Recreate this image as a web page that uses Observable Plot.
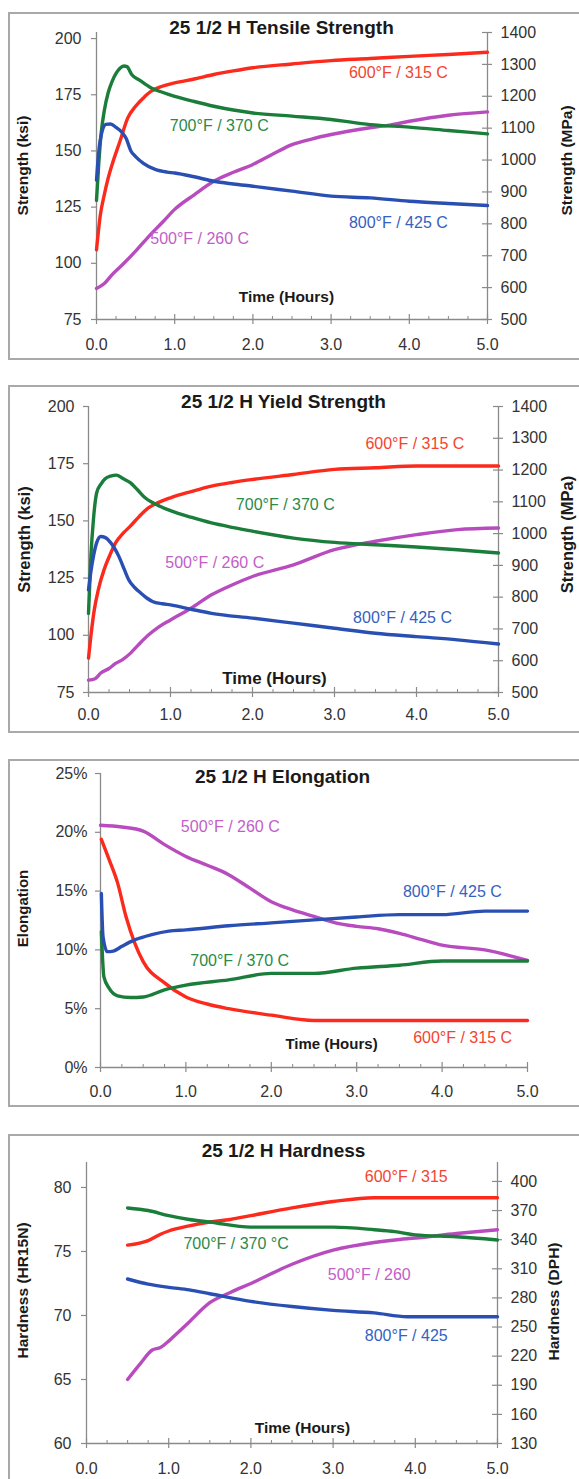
<!DOCTYPE html>
<html><head><meta charset="utf-8">
<script src="https://cdn.jsdelivr.net/npm/d3@7"></script>
<script src="https://cdn.jsdelivr.net/npm/@observablehq/plot@0.6"></script>
<style>
body{margin:0;background:#fff;font-family:"Liberation Sans",Arial,sans-serif;}
#wrap{position:relative;width:579px;height:1479px;overflow:hidden;}
.box{position:absolute;left:8px;width:640px;border:2px solid #a9a9a9;box-sizing:border-box;}
.panel{position:absolute;left:0;}
</style></head><body><div id="wrap"></div><script>
// ---------- data ----------
const seriesNames = ["500°F / 260 C", "600°F / 315 C", "700°F / 370 C", "800°F / 425 C"];
const hardnessNames = ["500°F / 260", "600°F / 315", "700°F / 370 °C", "800°F / 425"];
const xTicks = [0, 1, 2, 3, 4, 5];
const xMinorTicks = [0.25,0.5,0.75,1.25,1.5,1.75,2.25,2.5,2.75,3.25,3.5,3.75,4.25,4.5,4.75];
const ksiTicks = [75, 100, 125, 150, 175, 200];
const mpaTicks = [500, 600, 700, 800, 900, 1000, 1100, 1200, 1300, 1400];
const pctTicks = [0, 5, 10, 15, 20, 25];
const hrTicks = [60, 65, 70, 75, 80];
const dphTicks = [130, 160, 190, 220, 250, 280, 310, 340, 370, 400];

// Tensile strength (hours, ksi)
const tensile500 = [[0,88.8],[0.1,91],[0.2,95],[0.35,100],[0.5,105.4],[0.69,112.8],[0.85,118.5],[1.0,124],[1.25,130.5],[1.5,136.5],[1.75,140.5],[2.0,144],[2.25,148.5],[2.5,152.8],[2.75,155.3],[3.0,157.3],[3.5,160.3],[3.75,161.5],[4.0,163.2],[4.5,165.9],[5.0,167.4]];
const tensile600 = [[0,106],[0.05,121.7],[0.1,130.6],[0.15,138],[0.2,144],[0.3,154.3],[0.4,164.7],[0.5,169.9],[0.6,173.6],[0.7,176.6],[0.8,178.3],[1.0,180.3],[1.25,182],[1.5,184],[1.75,185.6],[2.0,187],[2.5,188.7],[3.0,190.2],[3.5,191.1],[4.0,192.1],[4.5,192.9],[5.0,193.9]];
const tensile700 = [[0,128],[0.03,145],[0.06,158],[0.1,168],[0.15,176],[0.2,181],[0.25,184.5],[0.3,186.8],[0.35,187.8],[0.39,187.5],[0.45,184],[0.55,181.5],[0.7,178],[0.85,176],[1.0,174.3],[1.25,172],[1.5,169.9],[1.75,168.2],[2.0,166.9],[2.5,165.5],[3.0,164],[3.5,161.7],[4.0,160.6],[4.5,159.1],[5.0,157.6]];
const tensile800 = [[0,137],[0.03,150],[0.07,158.5],[0.12,161.8],[0.18,162],[0.25,160.5],[0.32,158.5],[0.38,155.5],[0.44,150],[0.5,147.5],[0.6,144.5],[0.75,141.8],[0.9,140.6],[1.0,140.2],[1.25,138.5],[1.5,136.5],[1.75,135.3],[2.0,134.3],[2.5,132.1],[3.0,129.9],[3.5,129.1],[4.0,127.6],[4.5,126.6],[5.0,125.7]];

// Yield strength (hours, ksi)
const yield500 = [[0,80.4],[0.08,81],[0.15,83.5],[0.25,85.5],[0.33,87.7],[0.42,89.5],[0.51,92.1],[0.6,95.5],[0.73,100.1],[0.85,103.5],[1.0,106.7],[1.25,111.8],[1.5,117.7],[1.75,122],[2.0,125.7],[2.5,130.8],[3.0,137.4],[3.5,141.1],[4.0,144],[4.5,146.2],[5.0,146.9]];
const yield600 = [[0,90],[0.03,100],[0.07,111],[0.12,120],[0.19,128.7],[0.26,135],[0.33,140.4],[0.42,144.5],[0.51,147.7],[0.62,152],[0.73,155.7],[0.85,158],[1.0,160.1],[1.25,162.8],[1.5,165.2],[1.75,166.8],[2.0,168.1],[2.5,170.3],[3.0,172.5],[3.5,173.2],[4.0,174],[4.5,174],[5.0,174]];
const yield700 = [[0,109.6],[0.03,135],[0.06,150.6],[0.1,162.3],[0.15,166],[0.2,168.3],[0.27,169.6],[0.34,170],[0.42,168.5],[0.51,166.7],[0.6,163.5],[0.69,160.1],[0.78,158],[0.87,156.4],[1.0,154.5],[1.25,151.6],[1.5,149.1],[1.75,147.2],[2.0,145.5],[2.5,142.5],[3.0,140.6],[3.5,139.6],[4.0,138.6],[4.5,137.4],[5.0,136]];
const yield800 = [[0,119.9],[0.03,128],[0.06,134.5],[0.1,140.5],[0.15,143.2],[0.2,142.8],[0.27,140.5],[0.37,134.5],[0.44,128.5],[0.49,124.3],[0.56,121],[0.64,118.4],[0.71,116.3],[0.78,114.8],[0.9,113.8],[1.0,113.3],[1.25,111.4],[1.5,109.6],[2.0,107.5],[2.5,105.3],[3.0,103.1],[3.5,100.9],[4.0,99.4],[4.5,98],[5.0,96.2]];

// Elongation (hours, %)
const elong500 = [[0,20.6],[0.25,20.45],[0.5,20.1],[0.75,18.95],[1.0,17.95],[1.25,17.2],[1.5,16.4],[1.75,15.25],[2.0,14.1],[2.25,13.4],[2.5,12.85],[2.75,12.3],[3.0,12],[3.25,11.8],[3.5,11.4],[3.75,10.9],[4.0,10.4],[4.5,10.0],[5.0,9.1]];
const elong600 = [[0.01,19.4],[0.1,17.7],[0.2,15.7],[0.3,12.8],[0.4,10.6],[0.5,9.0],[0.75,7.2],[1.0,6.0],[1.25,5.4],[1.5,5.0],[2.0,4.45],[2.5,4.0],[3.0,4.0],[4.0,4.0],[5.0,4.0]];
const elong700 = [[0.01,11.55],[0.04,7.7],[0.1,6.75],[0.2,6.1],[0.35,5.95],[0.5,6.0],[0.75,6.6],[1.0,7.0],[1.5,7.45],[2.0,8.0],[2.5,8.0],[3.0,8.45],[3.5,8.7],[4.0,9.05],[5.0,9.05]];
const elong800 = [[0.01,14.8],[0.03,11.1],[0.08,9.85],[0.15,9.9],[0.25,10.3],[0.4,10.85],[0.6,11.3],[0.8,11.6],[1.0,11.7],[1.5,12.05],[2.0,12.3],[2.5,12.55],[3.0,12.8],[3.5,13.0],[4.0,13.0],[4.5,13.3],[5.0,13.3]];

// Hardness (hours, HR15N)
const hard500 = [[0.5,65.0],[0.65,66.2],[0.8,67.3],[0.9,67.5],[1.0,68.0],[1.1,68.6],[1.25,69.5],[1.5,71.0],[1.75,71.8],[2.0,72.5],[2.5,74.0],[3.0,75.1],[3.5,75.7],[3.75,75.9],[4.0,76.05],[4.5,76.4],[5.0,76.7]];
const hard600 = [[0.5,75.5],[0.75,75.85],[0.9,76.35],[1.0,76.6],[1.25,77.0],[1.5,77.3],[1.75,77.5],[2.0,77.8],[2.5,78.4],[3.0,78.9],[3.5,79.2],[4.0,79.2],[5.0,79.2]];
const hard700 = [[0.5,78.4],[0.75,78.2],[1.0,77.8],[1.25,77.5],[1.5,77.3],[2.0,76.9],[2.5,76.9],[3.0,76.9],[3.5,76.7],[3.75,76.55],[4.0,76.3],[4.5,76.15],[5.0,75.9]];
const hard800 = [[0.5,72.85],[0.75,72.45],[1.0,72.2],[1.25,72.0],[1.5,71.7],[2.0,71.1],[2.5,70.7],[3.0,70.4],[3.5,70.2],[3.9,69.9],[5.0,69.9]];

// series label anchor points (hours, value) in order 500, 600, 700, 800
const tensileLabelPos = [[1.32,111],[3.86,184.9],[1.57,161.3],[3.86,118.1]];
const yieldLabelPos = [[1.54,131.8],[3.98,183.8],[2.40,157.2],[3.83,107.8]];
const elongLabelPos = [[1.52,20.5],[4.24,2.5],[1.63,9.1],[4.12,14.9]];
const hardLabelPos = [[3.44,73.2],[3.89,80.8],[1.82,75.6],[3.89,68.4]];

// ---------- styles ----------
const lineColors = ["#b84cbf", "#fb2a1c", "#1a7d3a", "#2a4fb3"];
const labelColors = ["#c25ec9", "#f4442f", "#2b8a48", "#3561c0"];
const axisColor = "#8a8a8a";
const tickText = "#333";
const FONT = '"Liberation Sans", Arial, sans-serif';
const TICK_FS = 16;

const panels = [
  {top: 12, height: 348, ml: 96, mr: 92, mt: 20, mb: 41, yDomain: [75, 202.7],
   leftTicks: ksiTicks, leftFormat: d => d, yPad: 10, xPad: 19,
   right: {ticks: mpaTicks, from: [500, 1400], to: [75, 202.7]},
   series: [tensile500, tensile600, tensile700, tensile800], names: seriesNames, labelPos: tensileLabelPos,
   title: "25 1/2 H Tensile Strength", titleD: [185, -5],
   leftLabel: "Strength (ksi)", leftD: [-73, 133], leftSize: 15.5,
   rightLabel: "Strength (MPa)", rightD: [471, 128], rightSize: 15.5,
   timeD: [190, 265], timeSize: 15.5},
  {top: 385, height: 348, ml: 88, mr: 81, mt: 21, mb: 41, yDomain: [75, 200],
   leftTicks: ksiTicks, leftFormat: d => d, yPad: 9, xPad: 16,
   right: {ticks: mpaTicks, from: [500, 1400], to: [75, 200]},
   series: [yield500, yield600, yield700, yield800], names: seriesNames, labelPos: yieldLabelPos,
   title: "25 1/2 H Yield Strength", titleD: [195, -5],
   leftLabel: "Strength (ksi)", leftD: [-64, 133], leftSize: 16.5,
   rightLabel: "Strength (MPa)", rightD: [479, 128], rightSize: 16.5,
   timeD: [186, 272], timeSize: 17},
  {top: 759, height: 348, ml: 100, mr: 52, mt: 14, mb: 40, yDomain: [0, 25],
   leftTicks: pctTicks, leftFormat: d => d + "%", yPad: 8, xPad: 18,
   right: null,
   series: [elong500, elong600, elong700, elong800], names: seriesNames, labelPos: elongLabelPos,
   title: "25 1/2 H Elongation", titleD: [182, 3],
   leftLabel: "Elongation", leftD: [-77, 135], leftSize: 15,
   timeD: [231, 271], timeSize: 15},
  {top: 1134, height: 345, ml: 86, mr: 82, mt: 28, mb: 36, yDomain: [60, 81.95],
   leftTicks: hrTicks, leftFormat: d => d, yPad: 10, xPad: 19,
   right: {ticks: dphTicks, from: [130, 400], to: [60, 80.47]},
   series: [hard500, hard600, hard700, hard800], names: hardnessNames, labelPos: hardLabelPos,
   title: "25 1/2 H Hardness", titleD: [197, -12],
   leftLabel: "Hardness (HR15N)", leftD: [-63, 128], leftSize: 15.5,
   rightLabel: "Hardness (DPH)", rightD: [468, 139], rightSize: 15.5,
   timeD: [216, 266], timeSize: 15.5}
];

const wrap = document.getElementById("wrap");

function frameText(str, d, opts) {
  return Plot.text([str], Object.assign({
    frameAnchor: "top-left", dx: d[0], dy: d[1], text: s => s,
    textAnchor: "middle", lineAnchor: "middle", fontFamily: FONT,
    fontWeight: "bold", fill: "#1a1a1a"
  }, opts));
}

for (const p of panels) {
  const y0 = p.yDomain[0];
  const marks = [];
  // axis lines
  marks.push(Plot.ruleY([y0], {stroke: axisColor, strokeWidth: 1.3}));
  marks.push(Plot.ruleX([0], {stroke: axisColor, strokeWidth: 1.3}));
  if (p.right) marks.push(Plot.ruleX([5], {stroke: axisColor, strokeWidth: 1.3}));
  // x ticks (major crossing, minor above)
  marks.push(Plot.ruleX(xTicks, {x: d => d, y1: y0, y2: y0, insetTop: -5, insetBottom: -5, stroke: axisColor, strokeWidth: 1.2}));
  marks.push(Plot.ruleX(xMinorTicks, {x: d => d, y1: y0, y2: y0, insetTop: -3, insetBottom: 0, stroke: axisColor, strokeWidth: 1}));
  marks.push(Plot.axisX({ticks: xTicks, tickFormat: d3.format(".1f"), tickSize: 0, tickPadding: p.xPad,
    fill: tickText, fontSize: TICK_FS, fontFamily: FONT, label: null}));
  // left axis
  marks.push(Plot.axisY({anchor: "left", ticks: p.leftTicks, tickFormat: p.leftFormat, tickSize: 5, tickPadding: p.yPad,
    stroke: axisColor, strokeWidth: 1.2, fill: tickText, fontSize: TICK_FS, fontFamily: FONT, label: null}));
  // right axis
  if (p.right) {
    const toLeft = d3.scaleLinear().domain(p.right.from).range(p.right.to);
    const pos = p.right.ticks.map(toLeft);
    marks.push(Plot.ruleY(pos, {y: d => d, x1: 5, x2: 5, insetLeft: -5, insetRight: -5, stroke: axisColor, strokeWidth: 1.2}));
    marks.push(Plot.axisY({anchor: "right", ticks: pos, tickSize: 0, tickPadding: 13,
      tickFormat: d => String(Math.round(toLeft.invert(d))), fill: tickText, fontSize: TICK_FS, fontFamily: FONT, label: null}));
  }
  // lines
  p.series.forEach((s, i) => {
    marks.push(Plot.line(s, {x: d => d[0], y: d => d[1], stroke: lineColors[i], strokeWidth: 3.4,
      curve: "monotone-x", strokeLinejoin: "round", strokeLinecap: "round"}));
  });
  // series labels
  p.labelPos.forEach((lp, i) => {
    marks.push(Plot.text([lp], {x: d => d[0], y: d => d[1], text: () => p.names[i], fill: labelColors[i],
      fontSize: 16, fontFamily: FONT, textAnchor: "middle", lineAnchor: "middle"}));
  });
  // titles & axis labels
  marks.push(frameText(p.title, p.titleD, {fontSize: 19}));
  marks.push(frameText(p.leftLabel, p.leftD, {fontSize: p.leftSize, rotate: -90}));
  if (p.rightLabel) marks.push(frameText(p.rightLabel, p.rightD, {fontSize: p.rightSize, rotate: -90}));
  marks.push(frameText("Time (Hours)", p.timeD, {fontSize: p.timeSize}));

  const box = document.createElement("div");
  box.className = "box";
  box.style.top = p.top + "px";
  box.style.height = "348px";
  wrap.appendChild(box);

  const svg = Plot.plot({
    width: 579, height: p.height,
    marginLeft: p.ml, marginRight: p.mr, marginTop: p.mt, marginBottom: p.mb,
    x: {domain: [0, 5], axis: null},
    y: {domain: p.yDomain, axis: null},
    style: {background: "transparent", fontFamily: FONT, fontSize: TICK_FS + "px", overflow: "visible"},
    marks
  });
  const holder = document.createElement("div");
  holder.className = "panel";
  holder.style.top = p.top + "px";
  holder.appendChild(svg);
  wrap.appendChild(holder);
}
</script></body></html>
